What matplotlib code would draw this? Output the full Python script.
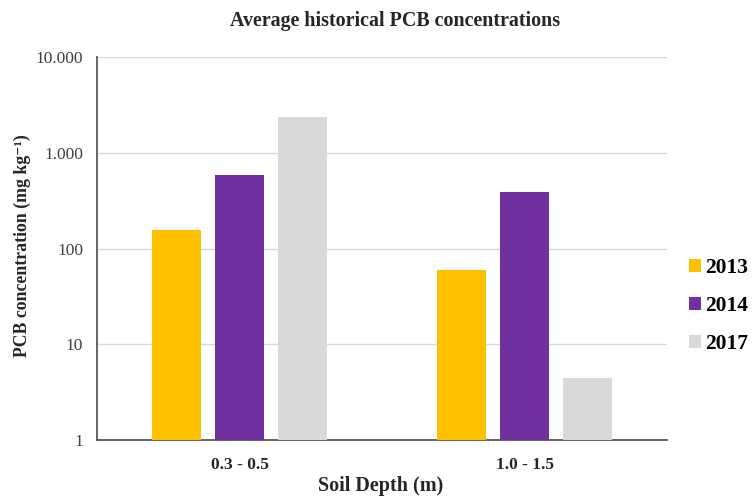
import matplotlib
matplotlib.use("Agg")
import matplotlib.pyplot as plt
import numpy as np
from matplotlib.ticker import FixedLocator, FixedFormatter, NullLocator

categories = ["0.3 - 0.5", "1.0 - 1.5"]
years = ["2013", "2014", "2017"]
values_2013 = [156, 59.6]
values_2014 = [586, 389]
values_2017 = [2360, 4.4]
colors = ["#FFC000", "#7030A0", "#D9D9D9"]
ytick_vals = [1, 10, 100, 1000, 10000]
ytick_labels = ["1", "10", "100", "1.000", "10.000"]

plt.rcParams['font.family'] = ['Liberation Serif', 'DejaVu Serif']

fig = plt.figure(figsize=(7.52, 4.97), dpi=100)
ax = fig.add_axes([0.129, 0.1147, 0.758, 0.7703])

x = np.arange(len(categories))
width = 0.175
step = 0.221
series = [values_2013, values_2014, values_2017]
for i, (vals, c, lab) in enumerate(zip(series, colors, years)):
    ax.bar(x + (i - 1) * step, vals, width=width, color=c, label=lab, zorder=3)

ax.set_yscale('log')
ax.set_ylim(1, 10000)
ax.set_xlim(-0.5, 1.5)
ax.yaxis.set_major_locator(FixedLocator(ytick_vals))
ax.yaxis.set_major_formatter(FixedFormatter(ytick_labels))
ax.yaxis.set_minor_locator(NullLocator())
ax.set_xticks(x)
ax.set_xticklabels(categories, fontweight='bold', fontsize=12.5)
ax.tick_params(axis='y', labelsize=12.5, length=0, pad=10, colors='#404040')
ax.tick_params(axis='x', length=0, pad=12, colors='#262626')

ax.grid(axis='y', color='#D9D9D9', linewidth=1, zorder=0)
for s in ['top', 'right']:
    ax.spines[s].set_visible(False)
for s in ['left', 'bottom']:
    ax.spines[s].set_color('#595959')
    ax.spines[s].set_linewidth(1.3)

fig.text(395 / 752, 1 - 21 / 497, "Average historical PCB concentrations", fontweight='bold',
         fontsize=14.4, color='#262626', ha='center', va='center')
fig.text(22 / 752, 1 - 246 / 497, "PCB concentration (mg kg\u207b\u00b9)", fontweight='bold',
         fontsize=12.8, color='#262626', ha='center', va='center', rotation=90)
fig.text(381 / 752, 1 - 486 / 497, "Soil Depth (m)", fontweight='bold', fontsize=14.5,
         color='#262626', ha='center', va='center')

leg = ax.legend(loc='center left', bbox_to_anchor=(1.012, 0.35), frameon=False,
                prop={'weight': 'bold', 'size': 15.5}, handlelength=0.55, handleheight=0.55,
                labelspacing=0.85, handletextpad=0.2, borderaxespad=0.3)

fig.savefig("out.png", dpi=100)
